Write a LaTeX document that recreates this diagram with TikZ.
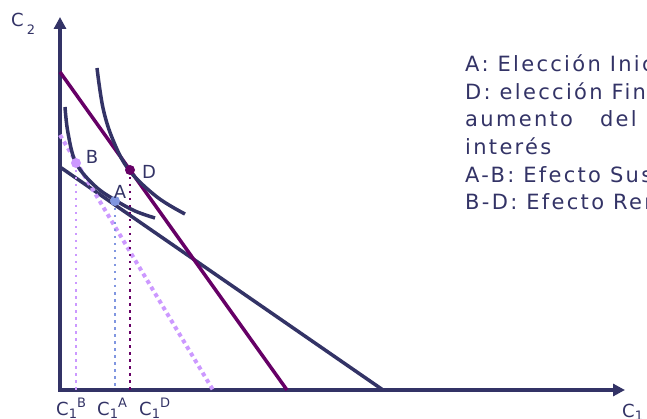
\documentclass[tikz,border=0pt]{standalone}
\usepackage{fontspec}
\setmainfont{DejaVu Sans}
\newfontfamily\leyfont[LetterSpace=11]{DejaVu Sans}
\usetikzlibrary{arrows.meta}
\definecolor{navy}{RGB}{51,51,102}
\definecolor{plum}{RGB}{102,0,102}
\definecolor{lilac}{RGB}{204,153,255}
\definecolor{skyblue}{RGB}{128,150,224}
% subindices y superindices de los ejes
\newcommand{\bajo}[2]{\raisebox{-#1}{\fontsize{13}{13}\selectfont #2}}
\newcommand{\alto}[1]{\raisebox{7.5pt}{\fontsize{13}{13}\selectfont #1}}

\begin{document}
\begin{tikzpicture}[x=1pt, y=-1pt,
    axis/.style={draw=navy, line width=3.5pt, line join=miter,
                 {Triangle[length=12pt, width=12pt]}-{Triangle[length=12pt, width=12pt]}},
    icurve/.style={draw=navy, line width=3.5pt},
    pt/.style={circle, inner sep=0pt, minimum size=10pt},
    vdot/.style={line width=2.5pt, dash pattern=on 2.5pt off 4.5pt},
    lbl/.style={font=\fontsize{18}{20}\selectfont, text=navy, inner sep=0pt},
    ley/.style={font=\leyfont\fontsize{21}{25}\selectfont, text=navy,
                inner sep=0pt, anchor=base west}]
  \useasboundingbox (0,0) rectangle (647,419);
  % ejes
  \coordinate (O) at (60,390);
  \coordinate (ytop) at (60,17);
  \coordinate (xend) at (625,390);
  \draw[axis] (ytop) -- (O) -- (xend);
  \node[lbl, anchor=base west] (ejeC2) at (11,27) {C\,\bajo{8pt}{2}};
  \node[lbl, anchor=base west] (ejeC1) at (622,417) {C\bajo{3pt}{1}};
  % rectas presupuestarias
  \coordinate (m0) at (60,167);
  \coordinate (m1) at (383,390);
  \draw[navy, line width=3.5pt] (m0) -- (m1);
  \coordinate (p0) at (60,72);
  \coordinate (p1) at (287,390);
  \draw[plum, line width=3.5pt] (p0) -- (p1);
  \coordinate (c0) at (60,135);
  \coordinate (c1) at (213,390);
  \draw[lilac, line width=4pt, dash pattern=on 4pt off 3.7pt] (c0) -- (c1);
  % curvas de indiferencia
  \draw[icurve] plot[smooth, tension=0.6] coordinates
    {(65,107) (68,133) (76,163) (95,186) (115,200) (135,211) (155,218)};
  \draw[icurve] plot[smooth, tension=0.6] coordinates
    {(97,68) (103,108) (113,140) (129,170) (157,197) (185,214)};
  % puntos A, B, D
  \node[pt, fill=lilac] (B) at (76,163) {};
  \node[pt, fill=skyblue] (A) at (115,201) {};
  \node[pt, fill=plum] (D) at (130,170) {};
  \draw[vdot, lilac] (B.center) -- (B |- O);
  \draw[vdot, skyblue] (A.center) -- (A |- O);
  \draw[vdot, plum] (D.center) -- (D |- O);
  \node[lbl] (labB) at (92,157) {B};
  \node[lbl] (labA) at (120,192) {A};
  \node[lbl] (labD) at (149,172) {D};
  \node[lbl, anchor=base west] (c1B) at (56,415) {C\bajo{3pt}{1}\alto{B}};
  \node[lbl, anchor=base west] (c1A) at (97,415) {C\bajo{3pt}{1}\alto{A}};
  \node[lbl, anchor=base west] (c1D) at (139,415) {C\bajo{3pt}{1}\alto{D}};
  % leyenda
  \node[ley] (leyA) at (465,72) {A: Elección Inicial};
  \node[ley] (leyD) at (465,100) {D: elección Final tras el};
  \node[ley] (leyD2) at (465,127) {aumento\hspace{18pt} del\hspace{18pt} tipo};
  \node[ley] (leyD3) at (465,155) {interés};
  \node[ley] (leyAB) at (465,183) {A-B: Efecto Sustitución};
  \node[ley] (leyBD) at (465,210) {B-D: Efecto Renta};
\end{tikzpicture}
\end{document}
